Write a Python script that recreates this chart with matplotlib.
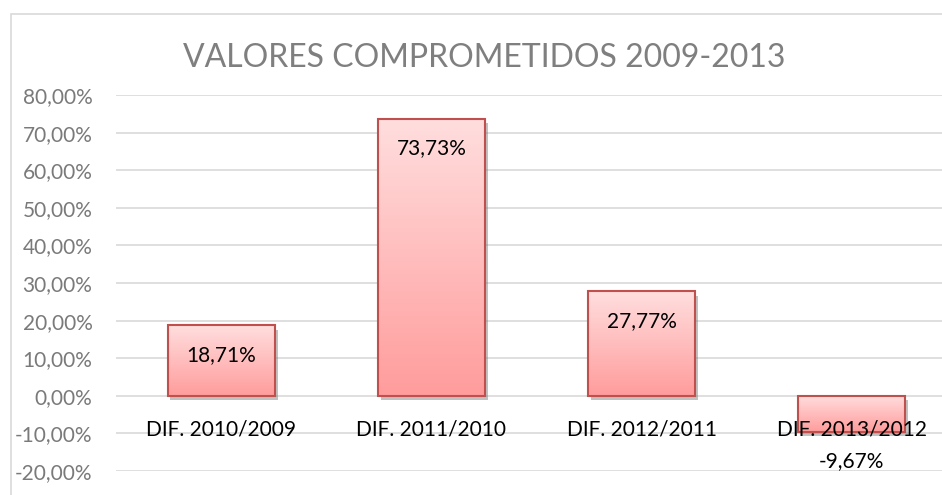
import numpy as np
import matplotlib
matplotlib.use("Agg")
import matplotlib.pyplot as plt
import matplotlib.patheffects as pe
from matplotlib.patches import Rectangle
from matplotlib.colors import to_rgb

# Data
categories = ["DIF. 2010/2009", "DIF. 2011/2010", "DIF. 2012/2011", "DIF. 2013/2012"]
values = [18.71, 73.73, 27.77, -9.67]
value_labels = ["18,71%", "73,73%", "27,77%", "-9,67%"]
y_ticks = list(range(-20, 90, 10))
y_tick_labels = ["%d,00%%" % t for t in y_ticks]
title = "VALORES COMPROMETIDOS 2009-2013"

plt.rcParams["font.family"] = ["Lato", "DejaVu Sans"]

W, H = 942, 495
fig = plt.figure(figsize=(W / 100, H / 100), dpi=100)
ax = fig.add_axes([116 / W, 1 - 471 / H, 841 / W, 376 / H])

# outer chart border (cropped on right and bottom)
fig.add_artist(Rectangle((11 / W, -0.1), 2, 1 - 14 / H + 0.1,
                         transform=fig.transFigure, fill=False,
                         ec="#D9D9D9", lw=1.2))

x = np.arange(len(categories))
bar_w = 0.51
top_c = np.array(to_rgb("#FFDEDE"))
bot_c = np.array(to_rgb("#FF9C9C"))
grad = np.linspace(0, 1, 256)[:, None]
grad_img = (top_c[None, None, :] * (1 - grad[:, :, None]) +
            bot_c[None, None, :] * grad[:, :, None])

bars = ax.bar(x, values, width=bar_w, color="#FF9C9C", zorder=2)
for b in bars:
    b.set_path_effects([pe.SimplePatchShadow(offset=(2, -3), shadow_rgbFace="#777777", alpha=0.45),
                        pe.Normal()])
    x0, y0 = b.get_x(), b.get_y()
    w, h = b.get_width(), b.get_height()
    lo, hi = min(y0, y0 + h), max(y0, y0 + h)
    im = ax.imshow(grad_img, extent=(x0, x0 + w, lo, hi), aspect="auto",
                   origin="upper", zorder=2.5)
    im.set_clip_path(b)
ax.bar(x, values, width=bar_w, fill=False, edgecolor="#C0504D", lw=1.5, zorder=3)

for i, v in enumerate(values):
    off = -30 if v > 0 else -29
    ax.annotate(value_labels[i], (i, v), xytext=(0, off), textcoords="offset pixels",
                ha="center", va="center", fontsize=15, color="black", zorder=5)
    ax.text(i, -9.0, categories[i], ha="center", va="center", fontsize=15,
            color="black", zorder=4)

ax.set_xlim(-0.5, 3.5)
ax.set_ylim(-20, 80)
ax.set_yticks(y_ticks)
ax.set_yticklabels(y_tick_labels, fontsize=15, color="#7A7A7A")
ax.set_xticks([])
ax.tick_params(axis="y", length=0, pad=17)
ax.grid(axis="y", color="#D9D9D9", lw=1.2, zorder=0)
ax.set_axisbelow(True)
for s in ax.spines.values():
    s.set_visible(False)

fig.text(484 / W, 1 - 58 / H, title, ha="center", va="center",
         fontsize=23, color="#7F7F7F", fontweight="normal")

fig.savefig("out.png", dpi=100)
